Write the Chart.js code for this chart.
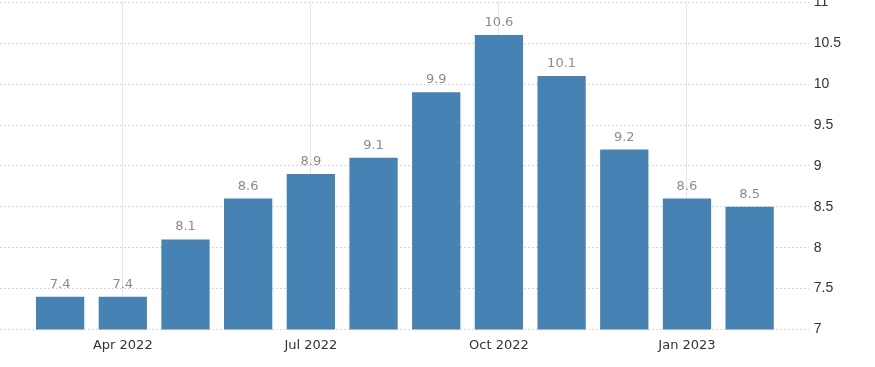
<!DOCTYPE html>
<html lang="en">
<head>
<meta charset="UTF-8">
<title>Bar chart</title>
<script src="https://cdn.jsdelivr.net/npm/chart.js"></script>
<style>
    html, body { margin: 0; padding: 0; background: #fff; }
    /* the top label is cut off in the original, so the canvas sits a bit higher than the page */
    #wrap { width: 875px; height: 367px; position: relative; overflow: hidden; }
    #inner { position: absolute; left: 0; top: -11px; width: 875px; height: 378px; }
</style>
</head>
<body>
<div id="wrap"><div id="inner"><canvas id="barCanvas"></canvas></div></div>
<script>
    // data
    let months = ['Mar 2022', 'Apr 2022', 'May 2022', 'Jun 2022', 'Jul 2022', 'Aug 2022',
                  'Sep 2022', 'Oct 2022', 'Nov 2022', 'Dec 2022', 'Jan 2023', 'Feb 2023'];
    let values = [7.4, 7.4, 8.1, 8.6, 8.9, 9.1, 9.9, 10.6, 10.1, 9.2, 8.6, 8.5];
    let tickIndex = [1, 4, 7, 10];
    let tickLabels = ['Apr 2022', 'Jul 2022', 'Oct 2022', 'Jan 2023'];

    let points = values.map((v, i) => ({ x: i, y: v }));

    // value labels above bars
    let valueLabels = {
        id: 'valueLabels',
        afterDatasetsDraw: function(chart) {
            let ctx = chart.ctx;
            ctx.save();
            ctx.font = '13px "DejaVu Sans"';
            ctx.fillStyle = '#8c8c8c';
            ctx.textAlign = 'center';
            ctx.textBaseline = 'alphabetic';
            chart.getDatasetMeta(0).data.forEach((bar, i) => {
                ctx.fillText(values[i].toFixed(1), bar.x, bar.y - 9);
            });
            ctx.restore();
        }
    };

    let ctx = document.getElementById('barCanvas').getContext('2d');
    let chart = new Chart(ctx, {
        type: 'bar',
        data: {
            datasets: [{
                label: 'value',
                data: points,
                backgroundColor: '#4682b4',
                borderWidth: 0,
                categoryPercentage: 1,
                barPercentage: 0.77
            }]
        },
        options: {
            responsive: true,
            maintainAspectRatio: false,
            animation: false,
            layout: { padding: { top: 0, right: 29, left: 0, bottom: 6 } },
            plugins: { legend: { display: false }, tooltip: { enabled: false } },
            scales: {
                x: {
                    type: 'linear',
                    offset: false,
                    min: -0.959,
                    max: 11.943,
                    afterBuildTicks: function(scale) {
                        scale.ticks = tickIndex.map(v => ({ value: v }));
                    },
                    ticks: {
                        autoSkip: false,
                        maxRotation: 0,
                        padding: 8,
                        color: '#333',
                        font: { family: 'DejaVu Sans', size: 13 },
                        callback: function(value) {
                            let k = tickIndex.indexOf(value);
                            return k >= 0 ? tickLabels[k] : '';
                        }
                    },
                    grid: { color: '#e6e6e6', drawTicks: false, offset: false },
                    border: { display: false }
                },
                y: {
                    position: 'right',
                    min: 7,
                    max: 11,
                    ticks: {
                        stepSize: 0.5,
                        padding: 5,
                        color: '#333',
                        font: { family: 'Liberation Sans', size: 14 },
                        callback: function(value) { return String(value); }
                    },
                    grid: { color: '#d9d9d9', drawTicks: false },
                    border: { display: false, dash: [2, 2] }
                }
            }
        },
        plugins: [valueLabels]
    });
</script>
</body>
</html>
